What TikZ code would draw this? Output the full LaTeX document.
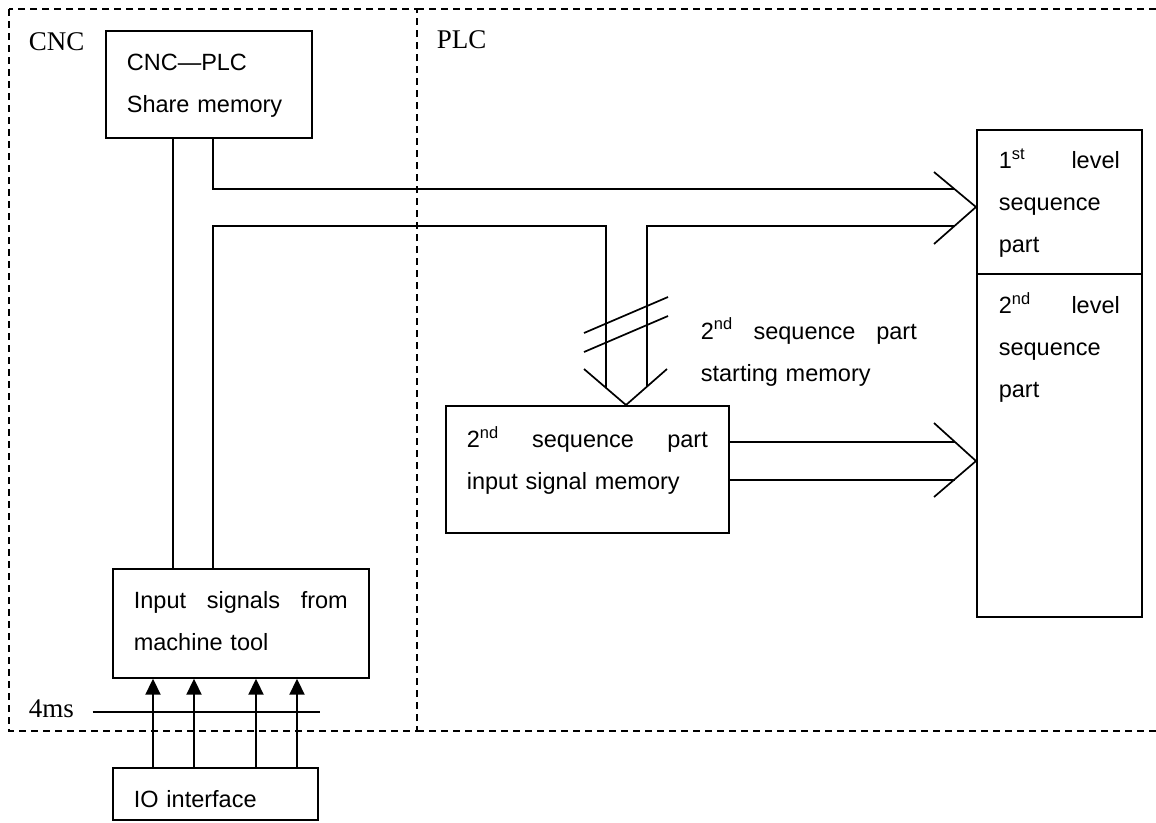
\documentclass[tikz,border=0pt]{standalone}
\usepackage{fontspec}
\setmainfont{Liberation Serif}
\newfontfamily\arialfont{Liberation Sans}
\usetikzlibrary{arrows.meta,calc}

\begin{document}
\begin{tikzpicture}[x=1pt,y=-1pt,line width=1.7pt,
  zone/.style={dashed,line width=1.8pt,dash pattern=on 7pt off 5pt},
  txt/.style={align=left,font=\arialfont\fontsize{23.5}{42}\selectfont},
  blk/.style={txt,draw,anchor=north west,inner ysep=0pt,inner xsep=21pt},
  lbl/.style={anchor=base west,inner sep=0pt,font=\fontsize{27}{30}\selectfont},
  sig/.style={line width=2pt,-{Triangle[length=16pt,width=15pt]}}]
  \useasboundingbox (0,0) rectangle (1156,822);

  % CNC and PLC areas
  \draw[zone] (9,9) rectangle (417,731);
  \draw[zone] (417,9) -- (1156,9);
  \draw[zone] (417,731) -- (1156,731);
  \node[lbl] (cnc) at (28,50) {CNC};
  \node[lbl] (plc) at (436,48) {PLC};

  % Blocks
  \node[blk,text width=164pt,text height=40pt,text depth=67pt] (share) at (105,30) {CNC—PLC\\Share memory};
  \node[blk,text width=214pt,text height=40pt,text depth=69pt] (inputs) at (112,568) {Input\hfill signals\hfill from\\machine tool};
  \node[blk,text width=163pt,text height=40pt,text depth=12pt] (io) at (112,767) {IO interface};
  \node[blk,text width=241pt,text height=42pt,text depth=85pt] (memory) at (445,405) {2\textsuperscript{nd}\hfill sequence\hfill part\\input signal memory};
  \node[blk,inner xsep=22pt,text width=121pt,text height=39pt,text depth=105pt] (first) at (976,129) {1\textsuperscript{st}\hfill level\\sequence\\part};
  \node[blk,inner xsep=22pt,text width=121pt,text height=40pt,text depth=303pt] (second) at (976,273) {2\textsuperscript{nd}\hfill level\\sequence\\part};
  \node[txt,anchor=base west,inner sep=0pt,text width=216pt] (start) at (700,339) {2\textsuperscript{nd}\hfill sequence\hfill part\\starting memory};

  % 4ms scan line
  \node[lbl] (ms) at (28,717) {4ms};
  \draw ([xshift=18pt,yshift=5pt]ms.base east) -- ++(227,0);

  % Signals from IO interface
  \draw[sig] ($(io.north west)+(41,0)$) -- ($(inputs.south west)+(41,0)$);
  \draw[sig] ($(io.north west)+(82,0)$) -- ($(inputs.south west)+(82,0)$);
  \draw[sig] ($(io.north west)+(144,0)$) -- ($(inputs.south west)+(144,0)$);
  \draw[sig] ($(io.north west)+(185,0)$) -- ($(inputs.south west)+(185,0)$);

  % Bus columns and open arrow tips
  \coordinate (c1) at (173,0);
  \coordinate (c2) at (213,0);
  \coordinate (tipA) at (976,207);
  \coordinate (tipB) at (626,405);
  \coordinate (tipC) at (976,461);

  % Bus lines
  \draw (share.south -| c1) -- (inputs.north -| c1);
  \draw (share.south -| c2) |- ($(tipA)+(-22,-18)$);
  \draw (inputs.north -| c2) |- ($(tipB)+(-20,-179)$) -- ($(tipB)+(-20,-17)$);
  \draw ($(tipB)+(21,-18)$) |- ($(tipA)+(-22,19)$);
  \draw ($(memory.east |- tipC)+(0,-19)$) -- ($(tipC)+(-21,-19)$);
  \draw ($(memory.east |- tipC)+(0,19)$) -- ($(tipC)+(-21,19)$);

  % Open arrows
  \draw ($(tipA)+(-42,-35)$) -- (tipA) -- ($(tipA)+(-42,37)$);
  \draw ($(tipB)+(-42,-36)$) -- (tipB) -- ($(tipB)+(41,-36)$);
  \draw ($(tipC)+(-42,-38)$) -- (tipC) -- ($(tipC)+(-42,36)$);

  % Slash marks
  \draw ($(tipB)+(-42,-72)$) -- ($(tipB)+(42,-108)$);
  \draw ($(tipB)+(-42,-53)$) -- ($(tipB)+(42,-89)$);
\end{tikzpicture}
\end{document}
